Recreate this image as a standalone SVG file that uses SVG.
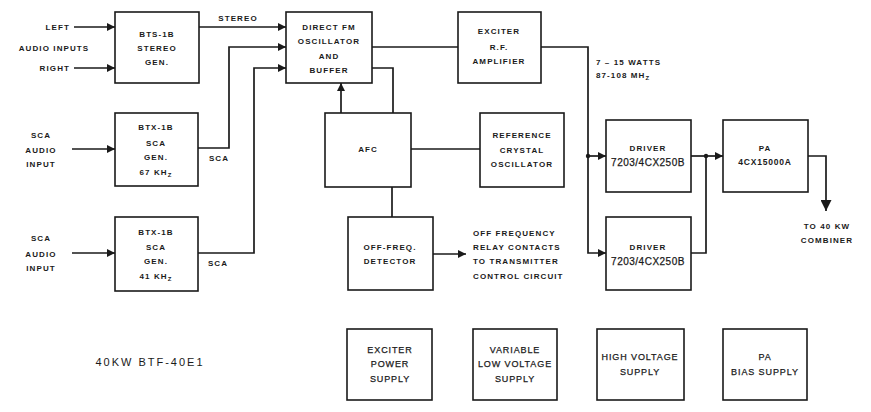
<svg xmlns="http://www.w3.org/2000/svg" width="871" height="412" viewBox="0 0 871 412">
<defs>
<style>
.b{fill:#fff;stroke:#1a1a1a;stroke-width:1.6}
.w{fill:none;stroke:#1a1a1a;stroke-width:1.7}
text{font-family:"Liberation Sans",Arial,sans-serif;font-weight:bold;font-size:8px;letter-spacing:1.1px;fill:#1a1a1a;dominant-baseline:central}
.c{text-anchor:middle}
.e{text-anchor:end}
.big{font-size:11px;font-weight:normal;letter-spacing:2px}
.s{font-size:6px}
.ps{font-size:9px;font-weight:normal;letter-spacing:0.9px;stroke:#1a1a1a;stroke-width:0.25}
.num{font-size:10px;font-weight:normal;letter-spacing:0.5px;stroke:#1a1a1a;stroke-width:0.25}
</style>
<marker id="ah" viewBox="0 0 10 10" refX="10" refY="5" markerWidth="9" markerHeight="8" markerUnits="userSpaceOnUse" orient="auto">
<path d="M0,0 L10,5 L0,10 z" fill="#1a1a1a"/>
</marker>
<marker id="ahb" viewBox="0 0 10 10" refX="10" refY="5" markerWidth="11" markerHeight="11" markerUnits="userSpaceOnUse" orient="auto">
<path d="M0,0 L10,5 L0,10 z" fill="#1a1a1a"/>
</marker>
</defs>
<rect width="871" height="412" fill="#fff"/>

<g id="connectors">
<path class="w" d="M74,27 H115" marker-end="url(#ah)"/>
<path class="w" d="M74,68 H115" marker-end="url(#ah)"/>
<path class="w" d="M199,27 H286" marker-end="url(#ah)"/>
<path class="w" d="M198,148 H229 V47 H286" marker-end="url(#ah)"/>
<path class="w" d="M198,253 H254 V68 H286" marker-end="url(#ah)"/>
<path class="w" d="M72,149 H115" marker-end="url(#ah)"/>
<path class="w" d="M72,253 H115" marker-end="url(#ah)"/>
<path class="w" d="M372,47 H458"/>
<path class="w" d="M372,68 H393 V113"/>
<path class="w" d="M341,113 V83" marker-end="url(#ah)"/>
<path class="w" d="M411,149 H480"/>
<path class="w" d="M392,187 V217"/>
<path class="w" d="M433,254 H466" marker-end="url(#ah)"/>
<path class="w" d="M541,47 H588 V253 H606" marker-end="url(#ah)"/>
<path class="w" d="M588,156 H606" marker-end="url(#ah)"/>
<circle cx="588" cy="156" r="2.2" fill="#1a1a1a"/>
<path class="w" d="M691,156 H723" marker-end="url(#ah)"/>
<path class="w" d="M691,253 H706 V156"/>
<circle cx="706" cy="156" r="2.2" fill="#1a1a1a"/>
<path class="w" d="M808,156 H826 V211" marker-end="url(#ahb)"/>
</g>

<g id="labels">
<text class="e" x="70" y="27">LEFT</text>
<text class="c" x="54" y="48">AUDIO INPUTS</text>
<text class="e" x="70" y="68">RIGHT</text>
<text class="c" x="238" y="18">STEREO</text>
<text class="c" x="41" y="135">SCA</text>
<text class="c" x="41" y="150">AUDIO</text>
<text class="c" x="41" y="164">INPUT</text>
<text class="c" x="41" y="238">SCA</text>
<text class="c" x="41" y="254">AUDIO</text>
<text class="c" x="41" y="268">INPUT</text>
<text class="c" x="219" y="158">SCA</text>
<text class="c" x="218" y="263">SCA</text>
<text x="596" y="62">7 – 15 WATTS</text>
<text x="596" y="75">87-108 MH<tspan class="s" dy="3">Z</tspan></text>
<text x="473" y="233">OFF FREQUENCY</text>
<text x="473" y="247">RELAY CONTACTS</text>
<text x="473" y="261">TO TRANSMITTER</text>
<text x="473" y="276">CONTROL CIRCUIT</text>
<text class="c" x="827" y="226">TO 40 KW</text>
<text class="c" x="827" y="240">COMBINER</text>
<text class="c big" x="150" y="362">40KW BTF-40E1</text>
</g>

<g id="bts">
<rect class="b" x="115" y="12" width="84" height="71"/>
<text class="c" x="157" y="34">BTS-1B</text>
<text class="c" x="157" y="48">STEREO</text>
<text class="c" x="157" y="62">GEN.</text>
</g>
<g id="btx67">
<rect class="b" x="115" y="113" width="83" height="73"/>
<text class="c" x="156" y="127">BTX-1B</text>
<text class="c" x="156" y="143">SCA</text>
<text class="c" x="156" y="157">GEN.</text>
<text class="c" x="156" y="172">67 KH<tspan class="s" dy="3">Z</tspan></text>
</g>
<g id="btx41">
<rect class="b" x="115" y="217" width="83" height="74"/>
<text class="c" x="156" y="232">BTX-1B</text>
<text class="c" x="156" y="247">SCA</text>
<text class="c" x="156" y="261">GEN.</text>
<text class="c" x="156" y="276">41 KH<tspan class="s" dy="3">Z</tspan></text>
</g>
<g id="fmosc">
<rect class="b" x="286" y="12" width="86" height="71"/>
<text class="c" x="329" y="27">DIRECT FM</text>
<text class="c" x="329" y="41">OSCILLATOR</text>
<text class="c" x="329" y="56">AND</text>
<text class="c" x="329" y="70">BUFFER</text>
</g>
<g id="exciter">
<rect class="b" x="458" y="12" width="83" height="71"/>
<text class="c" x="499" y="31">EXCITER</text>
<text class="c" x="499" y="47">R.F.</text>
<text class="c" x="499" y="61">AMPLIFIER</text>
</g>
<g id="afc">
<rect class="b" x="325" y="113" width="86" height="74"/>
<text class="c" x="368" y="149">AFC</text>
</g>
<g id="refosc">
<rect class="b" x="480" y="113" width="84" height="74"/>
<text class="c" x="522" y="135">REFERENCE</text>
<text class="c" x="522" y="150">CRYSTAL</text>
<text class="c" x="522" y="164">OSCILLATOR</text>
</g>
<g id="offfreq">
<rect class="b" x="348" y="217" width="85" height="73"/>
<text class="c" x="390" y="247">OFF-FREQ.</text>
<text class="c" x="390" y="261">DETECTOR</text>
</g>
<g id="driver1">
<rect class="b" x="606" y="120" width="85" height="72"/>
<text class="c" x="648" y="148">DRIVER</text>
<text class="c num" x="648" y="162">7203/4CX250B</text>
</g>
<g id="driver2">
<rect class="b" x="606" y="217" width="85" height="73"/>
<text class="c" x="648" y="247">DRIVER</text>
<text class="c num" x="648" y="261">7203/4CX250B</text>
</g>
<g id="pa">
<rect class="b" x="723" y="120" width="85" height="72"/>
<text class="c" x="765" y="148">PA</text>
<text class="c" x="765" y="162" style="font-size:8.5px;letter-spacing:0.8px">4CX15000A</text>
</g>
<g id="exciterps">
<rect class="b" x="347" y="329" width="85" height="71"/>
<text class="c ps" x="390" y="350">EXCITER</text>
<text class="c ps" x="390" y="364">POWER</text>
<text class="c ps" x="390" y="379">SUPPLY</text>
</g>
<g id="lvps">
<rect class="b" x="473" y="329" width="84" height="71"/>
<text class="c ps" x="515" y="350">VARIABLE</text>
<text class="c ps" x="515" y="364">LOW VOLTAGE</text>
<text class="c ps" x="515" y="379">SUPPLY</text>
</g>
<g id="hvps">
<rect class="b" x="597" y="329" width="87" height="71"/>
<text class="c ps" x="640" y="357">HIGH VOLTAGE</text>
<text class="c ps" x="640" y="372">SUPPLY</text>
</g>
<g id="pabias">
<rect class="b" x="723" y="329" width="84" height="71"/>
<text class="c ps" x="765" y="357">PA</text>
<text class="c ps" x="765" y="372">BIAS SUPPLY</text>
</g>
</svg>
